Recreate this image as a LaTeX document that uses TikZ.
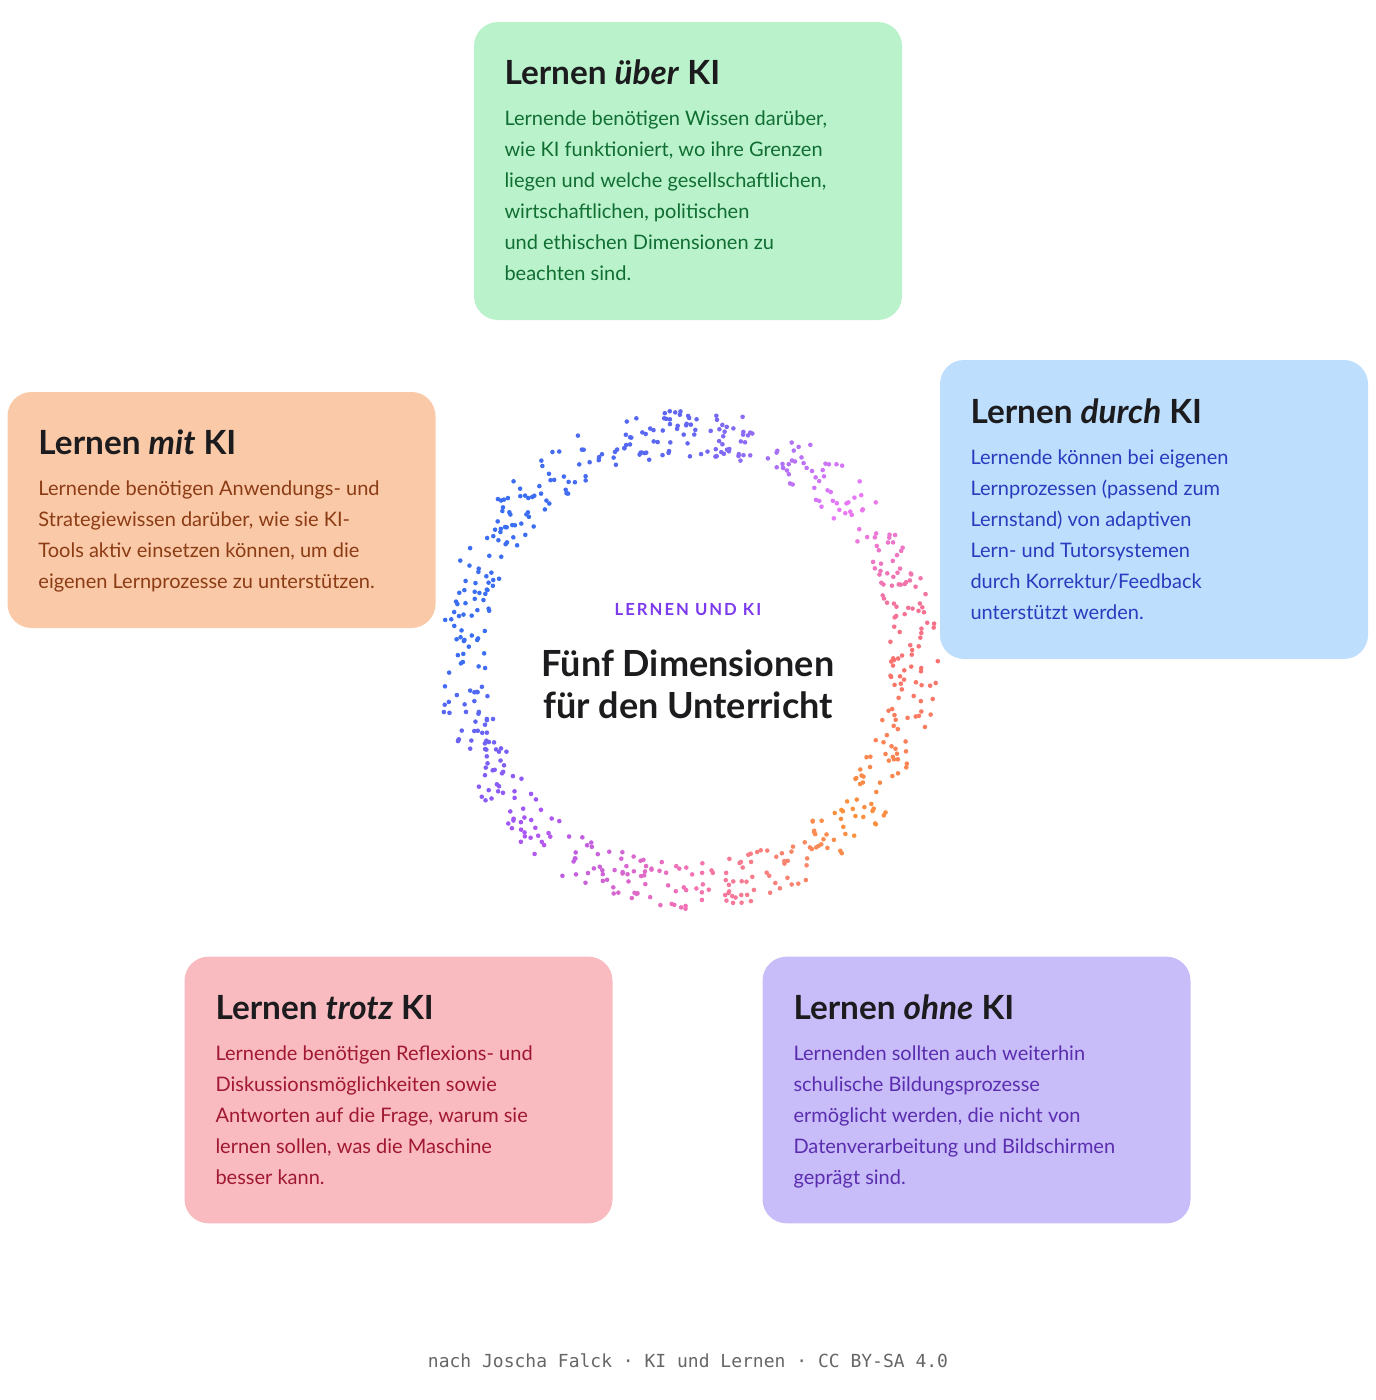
\documentclass[tikz,border=0pt]{standalone}
\usepackage{fontspec}
\setmainfont{Lato}
\setmonofont{DejaVu Sans Mono}
\definecolor{greenfill}{RGB}{186,243,203}
\definecolor{greentext}{RGB}{16,110,50}
\definecolor{bluefill}{RGB}{190,222,253}
\definecolor{bluetext}{RGB}{40,60,190}
\definecolor{orangefill}{RGB}{250,201,168}
\definecolor{orangetext}{RGB}{140,60,20}
\definecolor{pinkfill}{RGB}{249,186,192}
\definecolor{pinktext}{RGB}{160,24,50}
\definecolor{purplefill}{RGB}{201,189,249}
\definecolor{purpletext}{RGB}{90,45,175}
\definecolor{titletext}{RGB}{28,28,30}
\definecolor{kicker}{RGB}{124,58,237}
\definecolor{ringA}{RGB}{99,102,241}
\definecolor{ringB}{RGB}{232,121,249}
\definecolor{ringC}{RGB}{248,113,113}
\definecolor{ringD}{RGB}{251,146,60}
\definecolor{ringE}{RGB}{244,114,182}
\definecolor{ringF}{RGB}{168,85,247}
\definecolor{ringG}{RGB}{59,110,240}

\tikzset{every picture/.style={line width=0.75pt}}
\tikzset{
  kbox/.style={draw=none, rounded corners=18pt, minimum width=321pt, minimum height=#1, inner sep=0pt},
  ktitle/.style={anchor=base west, inner sep=0pt, text=titletext, font=\fontsize{25}{30}\selectfont\bfseries},
  kbody/.style={anchor=north west, inner sep=0pt, align=left, font=\fontsize{15}{23.3}\selectfont},
}

\begin{document}
\begin{tikzpicture}[x=0.75pt,y=0.75pt,yscale=-1,xscale=1]
\useasboundingbox (0,0) rectangle (1376,1400);

%Shape: Rectangle [Lernen ueber KI]
\node (ueber) [kbox=223.5pt, fill=greenfill] at (688,171) {};
%Shape: Rectangle [Lernen durch KI]
\node (durch) [kbox=224.25pt, fill=bluefill] at (1154,509.5) {};
%Shape: Rectangle [Lernen mit KI]
\node (mit) [kbox=177pt, fill=orangefill] at (221.5,510) {};
%Shape: Rectangle [Lernen trotz KI]
\node (trotz) [kbox=200pt, fill=pinkfill] at (398.5,1090) {};
%Shape: Rectangle [Lernen ohne KI]
\node (ohne) [kbox=200pt, fill=purplefill] at (976.5,1090) {};

% Text Node
\node (ueberT) [ktitle] at (504,84) {Lernen \textit{über} KI};
\node (ueberB) [kbody, text=greentext] at (504,110) {Lernende benötigen Wissen darüber,\\wie KI funktioniert, wo ihre Grenzen\\liegen und welche gesellschaftlichen,\\wirtschaftlichen, politischen\\und ethischen Dimensionen zu\\beachten sind.};
% Text Node
\node (durchT) [ktitle] at (970,423) {Lernen \textit{durch} KI};
\node (durchB) [kbody, text=bluetext] at (970,449) {Lernende können bei eigenen\\Lernprozessen (passend zum\\Lernstand) von adaptiven\\Lern- und Tutorsystemen\\durch Korrektur/Feedback\\unterstützt werden.};
% Text Node
\node (mitT) [ktitle] at (38,454) {Lernen \textit{mit} KI};
\node (mitB) [kbody, text=orangetext] at (38,480) {Lernende benötigen Anwendungs- und\\Strategiewissen darüber, wie sie KI-\\Tools aktiv einsetzen können, um die\\eigenen Lernprozesse zu unterstützen.};
% Text Node
\node (trotzT) [ktitle] at (215,1019) {Lernen \textit{trotz} KI};
\node (trotzB) [kbody, text=pinktext] at (215,1045) {Lernende benötigen Reflexions- und\\Diskussionsmöglichkeiten sowie\\Antworten auf die Frage, warum sie\\lernen sollen, was die Maschine\\besser kann.};
% Text Node
\node (ohneT) [ktitle] at (793,1019) {Lernen \textit{ohne} KI};
\node (ohneB) [kbody, text=purpletext] at (793,1045) {Lernenden sollten auch weiterhin\\schulische Bildungsprozesse\\ermöglicht werden, die nicht von\\Datenverarbeitung und Bildschirmen\\geprägt sind.};

%Dotted ring
\pgfmathsetseed{11}
\foreach \s/\ca/\cb in {0/ringA/ringB,1/ringB/ringC,2/ringC/ringD,3/ringD/ringE,4/ringE/ringF,5/ringF/ringG,6/ringG/ringG,7/ringG/ringA}{
  \foreach \i in {1,...,80}{
    \pgfmathsetmacro\f{rnd}
    \pgfmathsetmacro\t{45*(\s+\f)}
    \pgfmathsetmacro\r{203+47*rnd}
    \pgfmathtruncatemacro\p{100*(1-\f)}
    \fill [\ca!\p!\cb] ({688+\r*sin(\t)},{660-\r*cos(\t)}) circle (2.3);
  }
}

% Text Node
\node (kick) [inner sep=0pt, text=kicker, font=\fontsize{12.5}{15}\selectfont\bfseries] at (688,610) {\addfontfeature{LetterSpace=12}LERNEN UND KI};
\node (head) [inner sep=0pt, align=center, text=titletext, font=\fontsize{27}{31.5}\selectfont\bfseries] at (688,684) {Fünf Dimensionen\\für den Unterricht};
% Text Node
\node (credit) [inner sep=0pt, text=black!60, font=\ttfamily\fontsize{13.5}{16}\selectfont] at (688,1361) {nach Joscha Falck · KI und Lernen · CC BY-SA 4.0};

\end{tikzpicture}
\end{document}
